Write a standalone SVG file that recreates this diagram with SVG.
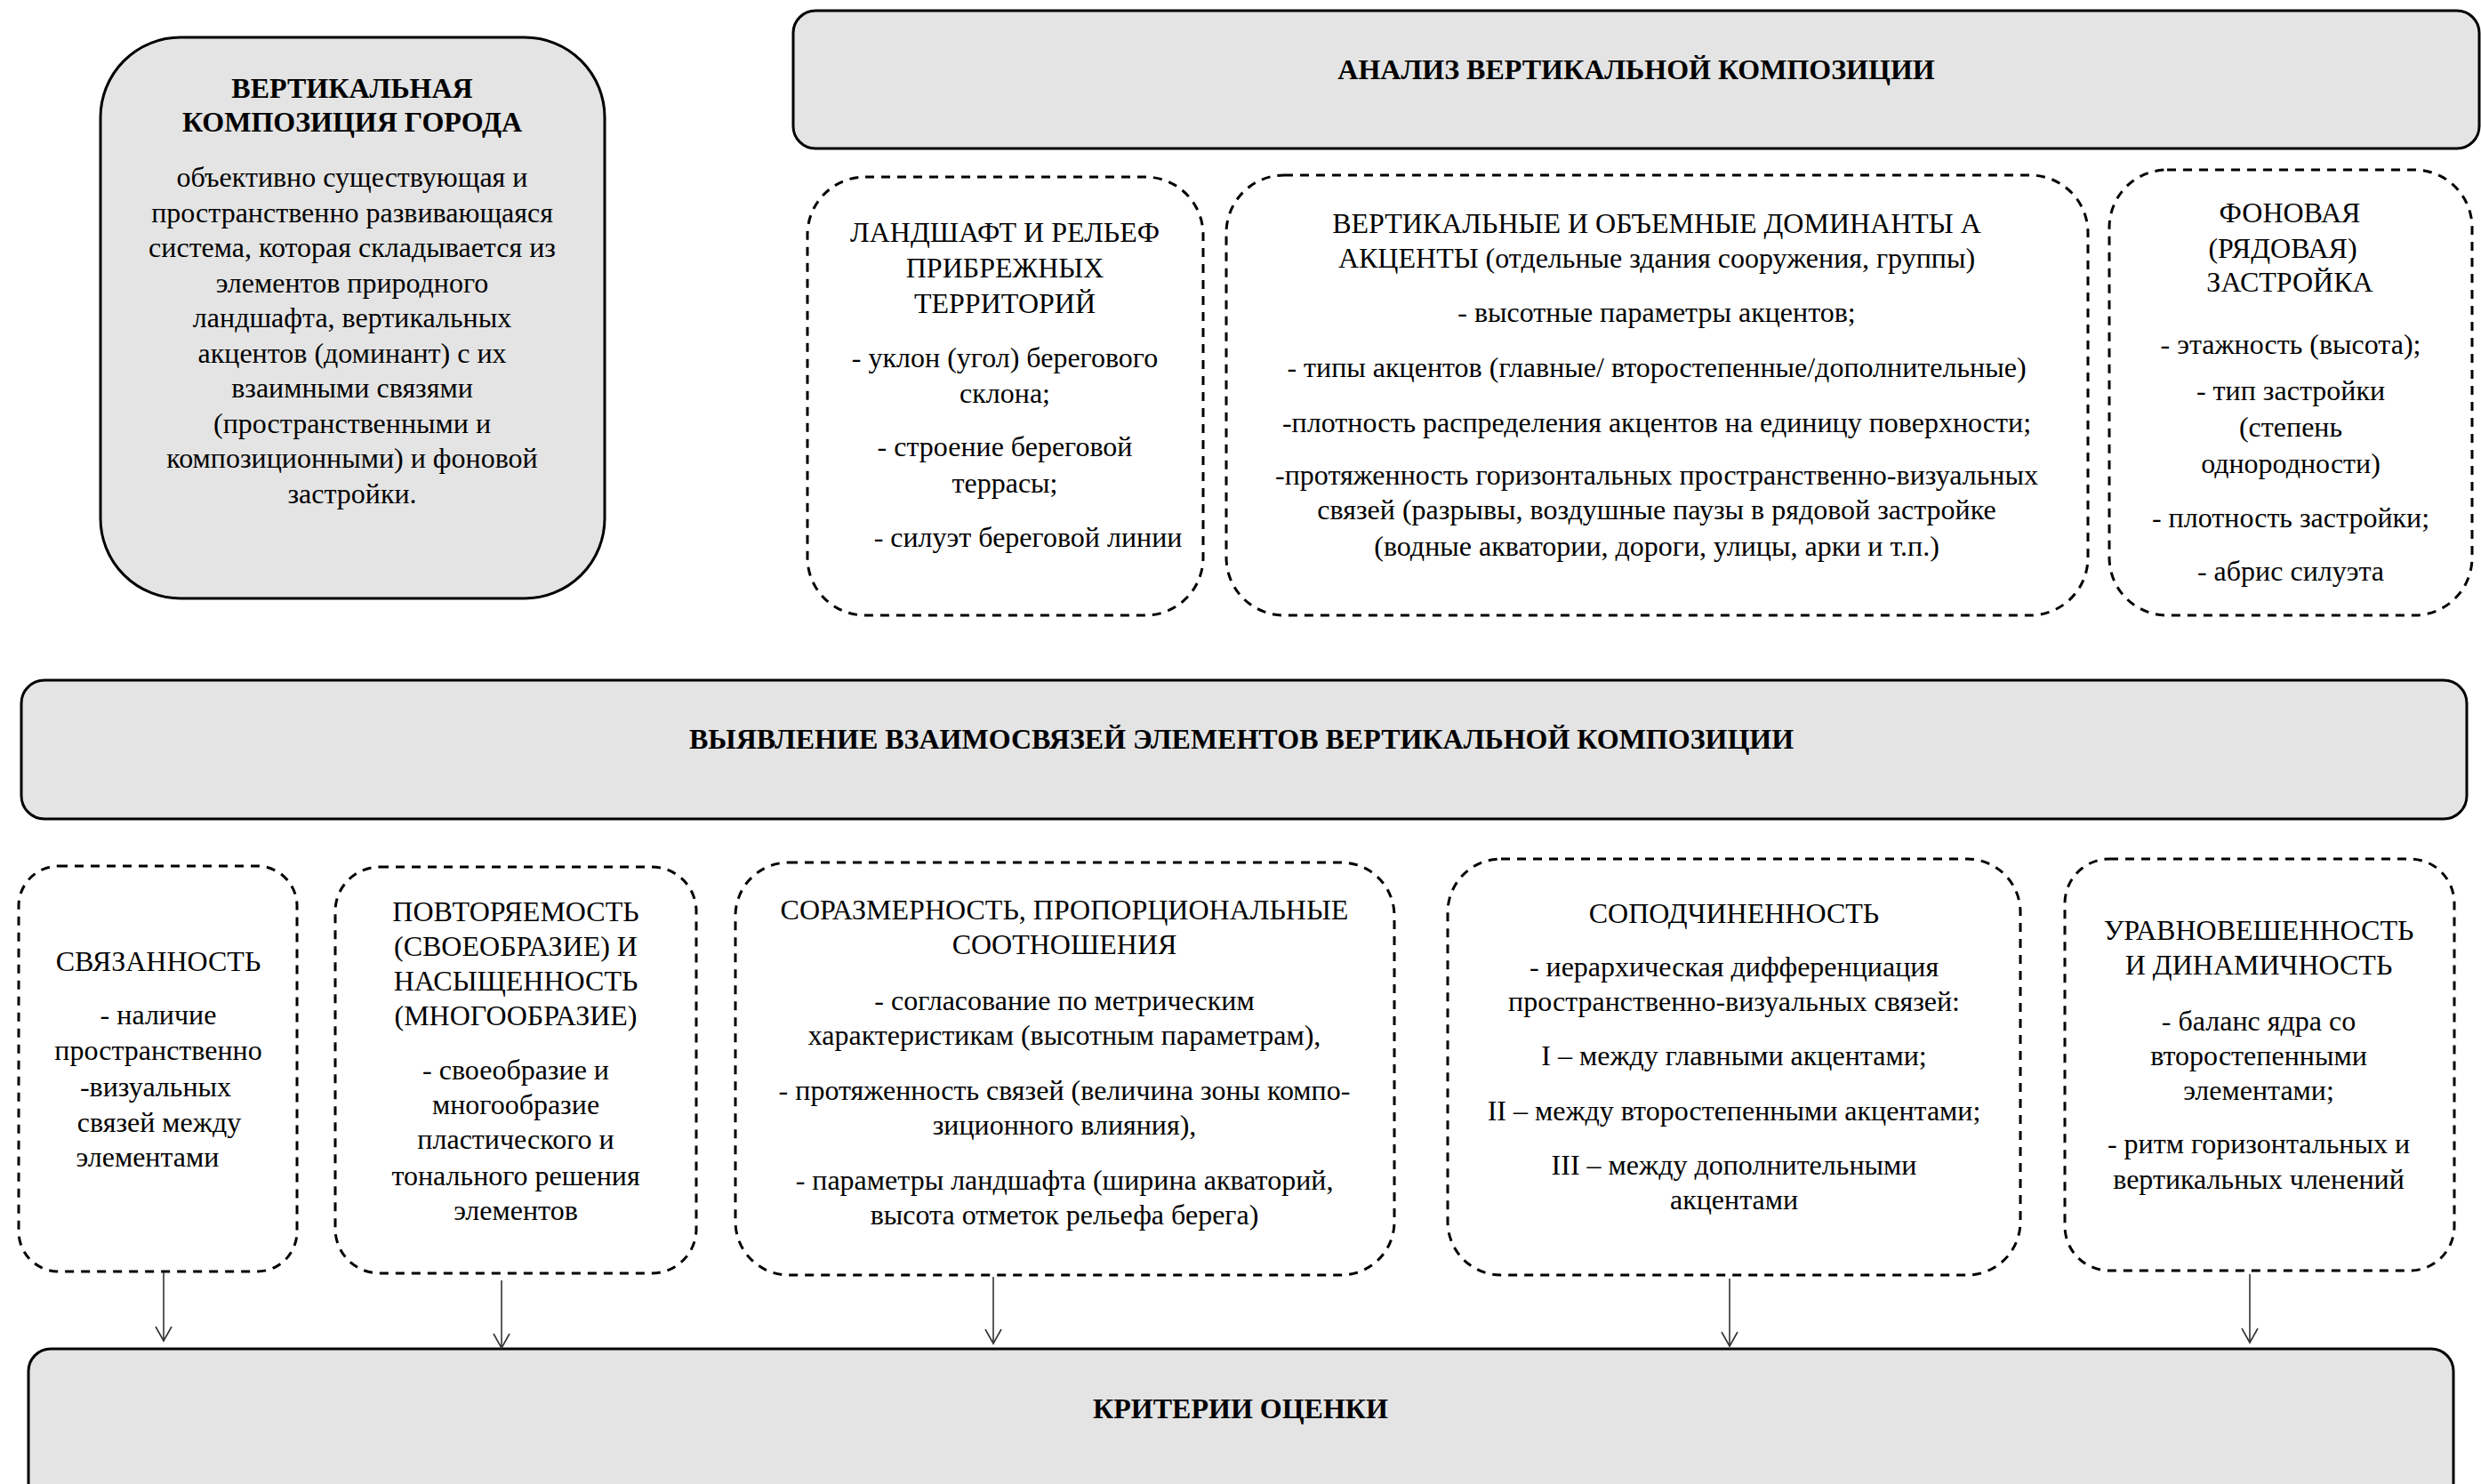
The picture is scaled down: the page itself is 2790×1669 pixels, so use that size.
<svg xmlns="http://www.w3.org/2000/svg" width="2790" height="1669" viewBox="0 0 2790 1669">
<defs>
<style>
.solid{fill:#e4e4e4;stroke:#000;stroke-width:3}
.dash{fill:#fff;stroke:#000;stroke-width:3;stroke-dasharray:10 8}
text{font-family:"Liberation Serif","Times New Roman",serif;fill:#000;text-anchor:middle}
.t{font-size:32px}
.b{font-size:32px;font-weight:bold}
.h{font-size:32px;font-weight:bold}
.conn line{stroke:#333;stroke-width:1.6}
</style>
<marker id="arr" viewBox="0 0 20 20" refX="18" refY="10" markerWidth="20" markerHeight="20" markerUnits="userSpaceOnUse" orient="auto">
<path d="M2,1 L18,10 L2,19" fill="none" stroke="#333" stroke-width="1.6"/>
</marker>
</defs>
<rect width="2790" height="1669" fill="#fff"/>

<g id="city-composition">
<rect class="solid" x="113" y="42" width="567" height="631" rx="90" ry="90"/>
<text class="b" x="396" y="110">ВЕРТИКАЛЬНАЯ</text>
<text class="b" x="396" y="148">КОМПОЗИЦИЯ ГОРОДА</text>
<text class="t" x="396" y="210">объективно существующая и</text>
<text class="t" x="396" y="249.5">пространственно развивающаяся</text>
<text class="t" x="396" y="289">система, которая складывается из</text>
<text class="t" x="396" y="328.5">элементов природного</text>
<text class="t" x="396" y="368">ландшафта, вертикальных</text>
<text class="t" x="396" y="407.5">акцентов (доминант) с их</text>
<text class="t" x="396" y="447">взаимными связями</text>
<text class="t" x="396" y="486.5">(пространственными и</text>
<text class="t" x="396" y="526">композиционными) и фоновой</text>
<text class="t" x="396" y="565.5">застройки.</text>
</g>

<g id="analysis">
<rect class="solid" x="892" y="12" width="1896" height="155" rx="25" ry="25"/>
<text class="h" x="1840" y="89">АНАЛИЗ ВЕРТИКАЛЬНОЙ КОМПОЗИЦИИ</text>
</g>

<g id="landscape">
<rect class="dash" x="908" y="199" width="445" height="493" rx="65" ry="65"/>
<text class="t" x="1130" y="272">ЛАНДШАФТ И РЕЛЬЕФ</text>
<text class="t" x="1130" y="312">ПРИБРЕЖНЫХ</text>
<text class="t" x="1130" y="352">ТЕРРИТОРИЙ</text>
<text class="t" x="1130" y="413">- уклон (угол) берегового</text>
<text class="t" x="1130" y="453">склона;</text>
<text class="t" x="1130" y="513">- строение береговой</text>
<text class="t" x="1130" y="554">террасы;</text>
<text class="t" x="1156" y="615">- силуэт береговой линии</text>
</g>

<g id="dominants">
<rect class="dash" x="1379" y="197" width="969" height="495" rx="65" ry="65"/>
<text class="t" x="1863" y="262">ВЕРТИКАЛЬНЫЕ И ОБЪЕМНЫЕ ДОМИНАНТЫ А</text>
<text class="t" x="1863" y="301">АКЦЕНТЫ (отдельные здания сооружения, группы)</text>
<text class="t" x="1863" y="362">- высотные параметры акцентов;</text>
<text class="t" x="1863" y="424">- типы акцентов (главные/ второстепенные/дополнительные)</text>
<text class="t" x="1863" y="486">-плотность распределения акцентов на единицу поверхности;</text>
<text class="t" x="1863" y="545">-протяженность горизонтальных пространственно-визуальных</text>
<text class="t" x="1863" y="584">связей (разрывы, воздушные паузы в рядовой застройке</text>
<text class="t" x="1863" y="625">(водные акватории, дороги, улицы, арки и т.п.)</text>
</g>

<g id="background-buildings">
<rect class="dash" x="2372" y="191" width="408" height="501" rx="65" ry="65"/>
<text class="t" x="2575" y="250">ФОНОВАЯ</text>
<text class="t" x="2567" y="290">(РЯДОВАЯ)</text>
<text class="t" x="2575" y="328">ЗАСТРОЙКА</text>
<text class="t" x="2576" y="398">- этажность (высота);</text>
<text class="t" x="2576" y="450">- тип застройки</text>
<text class="t" x="2576" y="491">(степень</text>
<text class="t" x="2576" y="532">однородности)</text>
<text class="t" x="2576" y="593">- плотность застройки;</text>
<text class="t" x="2576" y="653">- абрис силуэта</text>
</g>

<g id="relations">
<rect class="solid" x="24" y="765" width="2750" height="156" rx="26" ry="26"/>
<text class="h" x="1396" y="842">ВЫЯВЛЕНИЕ ВЗАИМОСВЯЗЕЙ ЭЛЕМЕНТОВ ВЕРТИКАЛЬНОЙ КОМПОЗИЦИИ</text>
</g>

<g id="connectedness">
<rect class="dash" x="21" y="974" width="313" height="456" rx="45" ry="45"/>
<text class="t" x="178" y="1092">СВЯЗАННОСТЬ</text>
<text class="t" x="178" y="1152">- наличие</text>
<text class="t" x="178" y="1192">пространственно</text>
<text class="t" x="175" y="1233">-визуальных</text>
<text class="t" x="179" y="1273">связей между</text>
<text class="t" x="166" y="1312">элементами</text>
</g>

<g id="repetition">
<rect class="dash" x="377" y="975" width="406" height="457" rx="50" ry="50"/>
<text class="t" x="580" y="1036">ПОВТОРЯЕМОСТЬ</text>
<text class="t" x="580" y="1075">(СВОЕОБРАЗИЕ) И</text>
<text class="t" x="580" y="1114">НАСЫЩЕННОСТЬ</text>
<text class="t" x="580" y="1153">(МНОГООБРАЗИЕ)</text>
<text class="t" x="580" y="1214">- своеобразие и</text>
<text class="t" x="580" y="1253">многообразие</text>
<text class="t" x="580" y="1292">пластического и</text>
<text class="t" x="580" y="1333">тонального решения</text>
<text class="t" x="580" y="1372">элементов</text>
</g>

<g id="proportionality">
<rect class="dash" x="827" y="970" width="741" height="464" rx="60" ry="60"/>
<text class="t" x="1197" y="1034">СОРАЗМЕРНОСТЬ, ПРОПОРЦИОНАЛЬНЫЕ</text>
<text class="t" x="1197" y="1073">СООТНОШЕНИЯ</text>
<text class="t" x="1197" y="1136">- согласование по метрическим</text>
<text class="t" x="1197" y="1175">характеристикам (высотным параметрам),</text>
<text class="t" x="1197" y="1237">- протяженность связей (величина зоны компо-</text>
<text class="t" x="1197" y="1276">зиционного влияния),</text>
<text class="t" x="1197" y="1338">- параметры ландшафта (ширина акваторий,</text>
<text class="t" x="1197" y="1377">высота отметок рельефа берега)</text>
</g>

<g id="subordination">
<rect class="dash" x="1628" y="966" width="644" height="468" rx="60" ry="60"/>
<text class="t" x="1950" y="1038">СОПОДЧИНЕННОСТЬ</text>
<text class="t" x="1950" y="1098">- иерархическая дифференциация</text>
<text class="t" x="1950" y="1137">пространственно-визуальных связей:</text>
<text class="t" x="1950" y="1198">I – между главными акцентами;</text>
<text class="t" x="1950" y="1260">II – между второстепенными акцентами;</text>
<text class="t" x="1950" y="1321">III – между дополнительными</text>
<text class="t" x="1950" y="1360">акцентами</text>
</g>

<g id="balance">
<rect class="dash" x="2322" y="966" width="438" height="463" rx="50" ry="50"/>
<text class="t" x="2540" y="1057">УРАВНОВЕШЕННОСТЬ</text>
<text class="t" x="2540" y="1096">И ДИНАМИЧНОСТЬ</text>
<text class="t" x="2540" y="1159">- баланс ядра со</text>
<text class="t" x="2540" y="1198">второстепенными</text>
<text class="t" x="2540" y="1237">элементами;</text>
<text class="t" x="2540" y="1297">- ритм горизонтальных и</text>
<text class="t" x="2540" y="1337">вертикальных членений</text>
</g>

<g id="criteria">
<rect class="solid" x="32" y="1517" width="2727" height="180" rx="25" ry="25"/>
<text class="h" x="1395" y="1595">КРИТЕРИИ ОЦЕНКИ</text>
</g>

<g id="connectors" class="conn">
<line x1="184" y1="1431" x2="184" y2="1508" marker-end="url(#arr)"/>
<line x1="564" y1="1440" x2="564" y2="1516" marker-end="url(#arr)"/>
<line x1="1117" y1="1436" x2="1117" y2="1511" marker-end="url(#arr)"/>
<line x1="1945" y1="1438" x2="1945" y2="1514" marker-end="url(#arr)"/>
<line x1="2530" y1="1433" x2="2530" y2="1510" marker-end="url(#arr)"/>
</g>
</svg>
